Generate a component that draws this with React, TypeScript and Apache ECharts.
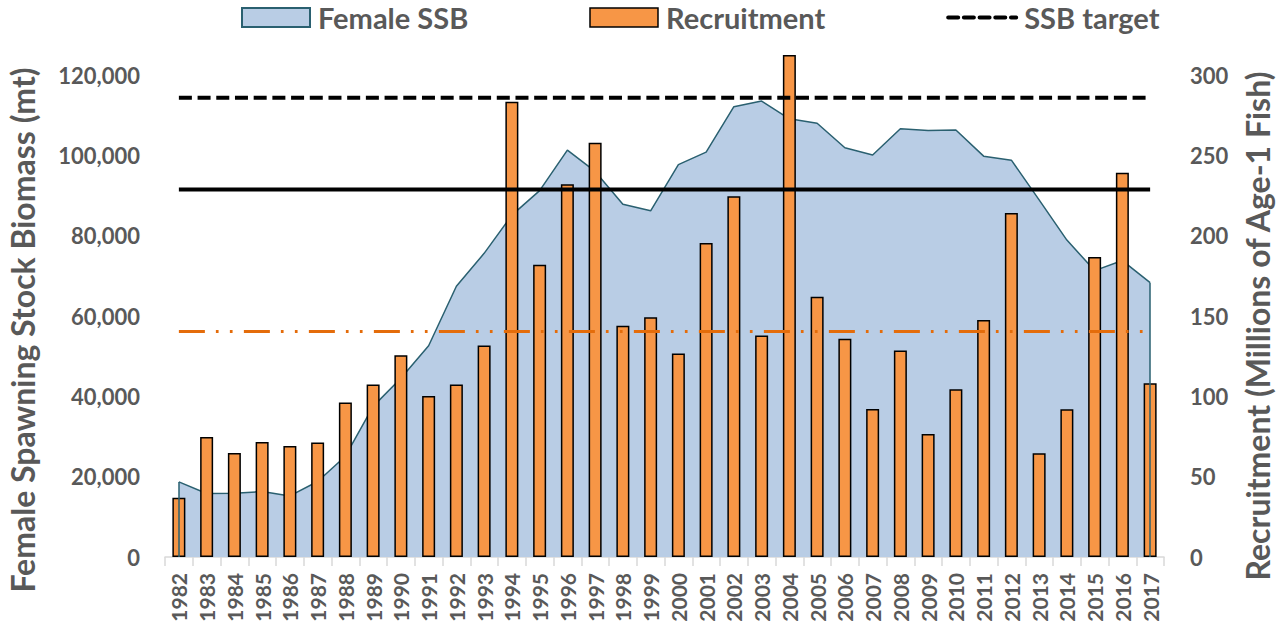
import React, { useEffect, useRef } from "react";
import * as echarts from "echarts";

const years = [
  "1982", "1983", "1984", "1985", "1986", "1987", "1988", "1989", "1990", "1991",
  "1992", "1993", "1994", "1995", "1996", "1997", "1998", "1999", "2000", "2001",
  "2002", "2003", "2004", "2005", "2006", "2007", "2008", "2009", "2010", "2011",
  "2012", "2013", "2014", "2015", "2016", "2017",
];

const femaleSSB = [
  18700, 15800, 15900, 16300, 15200, 18800, 25100, 37500, 44500, 52600,
  67400, 75600, 85100, 91200, 101300, 96000, 87800, 86200, 97700, 100800,
  112100, 113500, 109100, 108000, 101900, 100100, 106600, 106200, 106300, 99800,
  98800, 88900, 78900, 71300, 73800, 68300,
];

const recruitment = [
  36.9, 74.7, 64.7, 71.6, 69.1, 71.2, 96.1, 107.3, 125.5, 100.2,
  107.3, 131.7, 283.4, 181.9, 232.0, 257.9, 144.0, 149.2, 126.6, 195.4,
  224.5, 137.8, 312.4, 162.0, 135.9, 92.1, 128.6, 76.6, 104.4, 147.5,
  214.1, 64.5, 91.9, 186.7, 239.2, 108.1,
];

const SSB_TARGET = 114350;
const SSB_THRESHOLD = 91480;
const MEAN_RECRUITMENT = 140.4;

const leftTicks = [0, 20000, 40000, 60000, 80000, 100000, 120000];
const rightTicks = [0, 50, 100, 150, 200, 250, 300];

const GRAY = "#595959";
const FONT = "Lato";

export default function App() {
  const ref = useRef<HTMLDivElement>(null);

  useEffect(() => {
    if (!ref.current) return;
    const chart = echarts.init(ref.current, undefined, { renderer: "svg" });
    const firstYear = years[0];
    const lastYear = years[years.length - 1];
    chart.setOption({
      animation: false,
      grid: { left: 165, right: 117, top: 75, bottom: 80 },
      legend: {
        left: 241,
        top: 3,
        padding: 0,
        itemWidth: 68,
        itemHeight: 19,
        itemGap: 121,
        textStyle: {
          fontFamily: FONT,
          fontWeight: "bold",
          fontSize: 29,
          color: GRAY,
          padding: [0, 0, 0, 3],
        },
        data: [
          {
            name: "Female SSB",
            icon: "rect",
            itemStyle: { color: "#B9CDE5", borderColor: "#2A6070", borderWidth: 2 },
          },
          {
            name: "Recruitment",
            icon: "rect",
            itemStyle: { color: "#F79646", borderColor: "#000000", borderWidth: 1.5 },
          },
          {
            name: "SSB target",
            itemStyle: { opacity: 0 },
            lineStyle: { color: "#000000", width: 4, type: [10, 5.7], cap: "round" },
          },
        ],
      },
      xAxis: {
        type: "category",
        data: years,
        boundaryGap: true,
        axisLine: { lineStyle: { color: "#D9D9D9", width: 1.5 } },
        axisTick: { show: true, length: 9, lineStyle: { color: "#D9D9D9", width: 1.5 } },
        axisLabel: {
          interval: 0,
          rotate: 90,
          margin: 16,
          fontFamily: FONT,
          fontWeight: "bold",
          fontSize: 21,
          color: GRAY,
        },
      },
      yAxis: [
        {
          type: "value",
          min: leftTicks[0],
          max: leftTicks[leftTicks.length - 1],
          interval: leftTicks[1] - leftTicks[0],
          axisLine: { show: false },
          axisTick: { show: false },
          splitLine: { show: false },
          axisLabel: {
            margin: 25,
            fontFamily: FONT,
            fontWeight: "bold",
            fontSize: 22,
            color: GRAY,
            formatter: (v: number) => v.toLocaleString("en-US"),
          },
        },
        {
          type: "value",
          min: rightTicks[0],
          max: rightTicks[rightTicks.length - 1],
          interval: rightTicks[1] - rightTicks[0],
          position: "right",
          axisLine: { show: false },
          axisTick: { show: false },
          splitLine: { show: false },
          axisLabel: {
            margin: 26,
            fontFamily: FONT,
            fontWeight: "bold",
            fontSize: 22,
            color: GRAY,
          },
        },
      ],
      graphic: [
        {
          type: "text",
          x: 22,
          y: 330,
          rotation: Math.PI / 2,
          style: {
            text: "Female Spawning Stock Biomass (mt)",
            fontFamily: FONT,
            fontWeight: "bold",
            fontSize: 32,
            fill: GRAY,
            align: "center",
            verticalAlign: "middle",
          },
        },
        {
          type: "text",
          x: 1257,
          y: 326,
          rotation: Math.PI / 2,
          style: {
            text: "Recruitment (Millions of Age-1 Fish)",
            fontFamily: FONT,
            fontWeight: "bold",
            fontSize: 32,
            fill: GRAY,
            align: "center",
            verticalAlign: "middle",
          },
        },
      ],
      series: [
        {
          name: "Female SSB",
          type: "line",
          yAxisIndex: 0,
          data: femaleSSB,
          symbol: "none",
          z: 1,
          lineStyle: { color: "#2A6070", width: 1.5 },
          areaStyle: { color: "#B9CDE5", opacity: 1 },
          itemStyle: { color: "#B9CDE5" },
          markLine: {
            silent: true,
            symbol: "none",
            label: { show: false },
            lineStyle: { color: "#2A6070", width: 1.5, type: "solid" },
            data: [
              [{ coord: [firstYear, 0] }, { coord: [firstYear, femaleSSB[0]] }],
              [{ coord: [lastYear, 0] }, { coord: [lastYear, femaleSSB[femaleSSB.length - 1]] }],
            ],
          },
        },
        {
          name: "Recruitment",
          type: "bar",
          yAxisIndex: 1,
          data: recruitment,
          barWidth: 13,
          clip: false,
          z: 2,
          itemStyle: { color: "#F79646", borderColor: "#000000", borderWidth: 1.5 },
        },
        {
          name: "SSB target",
          type: "line",
          yAxisIndex: 0,
          data: years.map(() => SSB_TARGET),
          symbol: "none",
          z: 3,
          itemStyle: { color: "#000000" },
          lineStyle: { color: "#000000", width: 4, type: [13, 5.7] },
        },
        {
          name: "SSB threshold",
          type: "line",
          yAxisIndex: 0,
          data: years.map(() => SSB_THRESHOLD),
          symbol: "none",
          z: 3,
          itemStyle: { color: "#000000" },
          lineStyle: { color: "#000000", width: 4 },
        },
        {
          name: "Mean recruitment",
          type: "line",
          yAxisIndex: 1,
          data: years.map(() => MEAN_RECRUITMENT),
          symbol: "none",
          z: 3,
          itemStyle: { color: "#E46C0A" },
          lineStyle: { color: "#E46C0A", width: 3, type: [26, 11, 2.7, 11.3, 2.7, 11.3] },
        },
      ],
    });
    return () => chart.dispose();
  }, []);

  return (
    <div
      ref={ref}
      style={{ position: "fixed", left: 0, top: 0, width: 1281, height: 637, background: "#ffffff" }}
    />
  );
}
